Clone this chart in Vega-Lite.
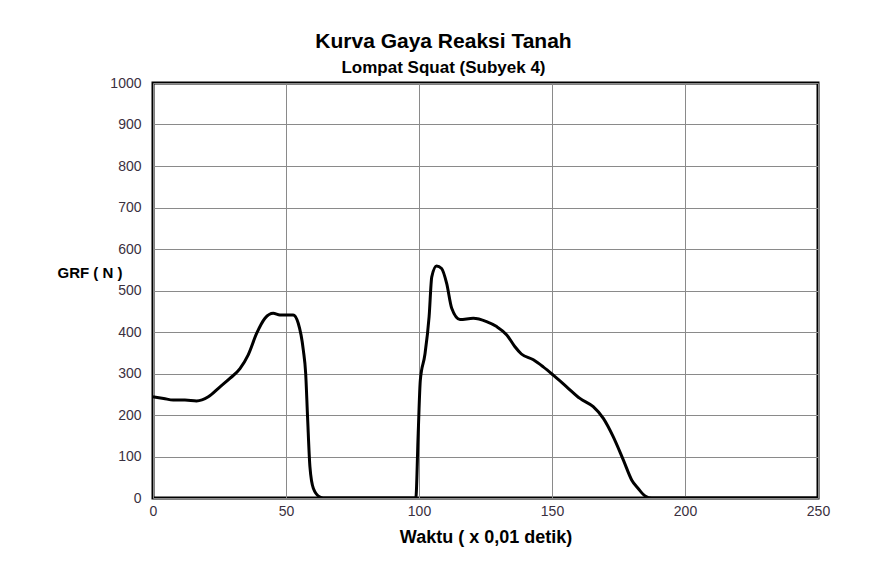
{
  "$schema": "https://vega.github.io/schema/vega-lite/v6.json",
  "width": 665,
  "height": 415,
  "autosize": "none",
  "padding": {"left": 153, "top": 83, "right": 52, "bottom": 76},
  "background": "white",
  "config": {
    "font": "Liberation Sans",
    "view": {"stroke": "black", "strokeWidth": 3}
  },
  "title": {
    "text": "Kurva Gaya Reaksi Tanah",
    "subtitle": "Lompat Squat (Subyek 4)",
    "anchor": "middle",
    "dx": -42,
    "font": "Liberation Sans",
    "fontSize": 21,
    "fontWeight": "bold",
    "color": "black",
    "subtitleFont": "Liberation Sans",
    "subtitleFontSize": 17,
    "subtitleFontWeight": "bold",
    "subtitleColor": "black",
    "subtitlePadding": 8,
    "offset": 0
  },
  "data": {
    "values": [
      {"t": 0, "grf": 244},
      {"t": 4, "grf": 240},
      {"t": 7.6, "grf": 236},
      {"t": 12, "grf": 236},
      {"t": 16.4, "grf": 234},
      {"t": 20.8, "grf": 244},
      {"t": 25.2, "grf": 268},
      {"t": 28.9, "grf": 288},
      {"t": 32.7, "grf": 312},
      {"t": 35.8, "grf": 345},
      {"t": 39, "grf": 397},
      {"t": 42.1, "grf": 433},
      {"t": 45.2, "grf": 445},
      {"t": 47.7, "grf": 441},
      {"t": 52.7, "grf": 441},
      {"t": 54.6, "grf": 421},
      {"t": 56.5, "grf": 357},
      {"t": 57.4, "grf": 300},
      {"t": 58.1, "grf": 196},
      {"t": 59, "grf": 75},
      {"t": 60.3, "grf": 23},
      {"t": 62.8, "grf": 2},
      {"t": 64, "grf": 0},
      {"t": 98.8, "grf": 0},
      {"t": 99.7, "grf": 156},
      {"t": 100.5, "grf": 284},
      {"t": 102.2, "grf": 345},
      {"t": 103.8, "grf": 437},
      {"t": 104.8, "grf": 533},
      {"t": 106.6, "grf": 559},
      {"t": 108.5, "grf": 553},
      {"t": 110.4, "grf": 517},
      {"t": 112.3, "grf": 457},
      {"t": 115.4, "grf": 430},
      {"t": 120.4, "grf": 433},
      {"t": 125.4, "grf": 425},
      {"t": 129.2, "grf": 413},
      {"t": 133, "grf": 393},
      {"t": 136, "grf": 365},
      {"t": 138.5, "grf": 347},
      {"t": 143, "grf": 333},
      {"t": 146.7, "grf": 316},
      {"t": 150.5, "grf": 296},
      {"t": 155.5, "grf": 268},
      {"t": 160.5, "grf": 240},
      {"t": 165.5, "grf": 220},
      {"t": 169.3, "grf": 192},
      {"t": 173, "grf": 148},
      {"t": 176.8, "grf": 92},
      {"t": 180, "grf": 43},
      {"t": 182.4, "grf": 23},
      {"t": 185, "grf": 5},
      {"t": 187.5, "grf": 0},
      {"t": 250, "grf": 0}
    ]
  },
  "mark": {"type": "line", "color": "black", "strokeWidth": 3, "interpolate": "monotone", "clip": true},
  "encoding": {
    "x": {
      "field": "t",
      "type": "quantitative",
      "scale": {"domain": [0, 250], "nice": false},
      "axis": {
        "values": [0, 50, 100, 150, 200, 250],
        "title": "Waktu ( x 0,01 detik)",
        "titleFont": "Liberation Sans",
        "titleFontSize": 18,
        "titleFontWeight": "bold",
        "titleColor": "black",
        "titlePadding": 10,
        "labelFont": "Liberation Sans",
        "labelFontSize": 14,
        "labelColor": "#3a3040",
        "labelPadding": 6,
        "labelFlush": false,
        "ticks": false,
        "domain": false,
        "grid": true,
        "gridColor": "#8a8a8a",
        "gridWidth": 1,
        "gridOpacity": 1
      }
    },
    "y": {
      "field": "grf",
      "type": "quantitative",
      "scale": {"domain": [0, 1000], "nice": false},
      "axis": {
        "values": [0, 100, 200, 300, 400, 500, 600, 700, 800, 900, 1000],
        "format": "d",
        "title": "GRF ( N )",
        "titleAngle": 0,
        "titleAlign": "left",
        "titleBaseline": "middle",
        "titleX": -96,
        "titleY": 189,
        "titleFont": "Liberation Sans",
        "titleFontSize": 15,
        "titleFontWeight": "bold",
        "titleColor": "black",
        "labelFont": "Liberation Sans",
        "labelFontSize": 14,
        "labelColor": "#3a3040",
        "labelPadding": 12,
        "ticks": false,
        "domain": false,
        "grid": true,
        "gridColor": "#8a8a8a",
        "gridWidth": 1,
        "gridOpacity": 1
      }
    }
  }
}
